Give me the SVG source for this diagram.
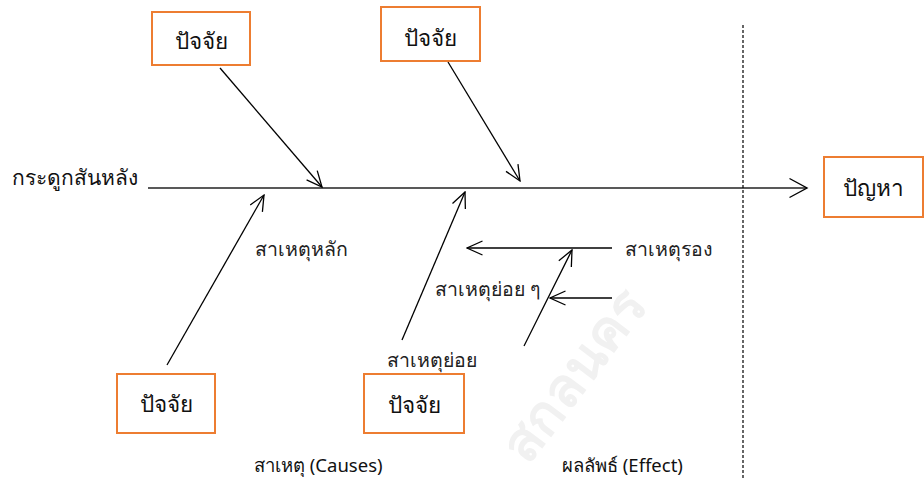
<svg xmlns="http://www.w3.org/2000/svg" width="924" height="479" viewBox="0 0 924 479">
<style>
.box{fill:#fff;stroke:#ED7D31;stroke-width:2}
.t{font-family:"Noto Sans","DejaVu Sans",sans-serif;fill:#111;font-weight:normal}
.bt{font-size:22.5px;text-anchor:middle}
.lb{font-size:19.5px;fill:#222}
.ln{stroke:#000;stroke-width:1.3;fill:none}
.wm{font-family:"Noto Sans","DejaVu Sans",sans-serif;font-size:54px;font-weight:bold;fill:#f1f1f1}
</style>
<defs>
<marker id="ah" markerUnits="userSpaceOnUse" markerWidth="18" markerHeight="18" viewBox="0 0 18 18" refX="16.5" refY="9" orient="auto">
<path d="M1,2 L16.5,9 L1,16" fill="none" stroke="#000" stroke-width="1.3"/>
</marker>
<marker id="ahb" markerUnits="userSpaceOnUse" markerWidth="20" markerHeight="22" viewBox="0 0 20 22" refX="18.5" refY="11" orient="auto">
<path d="M1,1.5 L18.5,11 L1,20.5" fill="none" stroke="#000" stroke-width="1.4"/>
</marker>
</defs>
<g id="watermark">
<text class="wm" transform="translate(528,466) rotate(-53)">สกลนคร</text>
</g>
<g id="connectors">
<line x1="148" y1="188" x2="807" y2="188" stroke="#222" stroke-width="1.6" marker-end="url(#ahb)"/>
<line x1="743" y1="25" x2="743" y2="479" stroke="#000" stroke-width="1.2" stroke-dasharray="3,2"/>
<line class="ln" x1="220" y1="68" x2="322" y2="187" marker-end="url(#ah)"/>
<line class="ln" x1="448" y1="62" x2="520" y2="181" marker-end="url(#ah)"/>
<line class="ln" x1="167" y1="365" x2="264" y2="195" marker-end="url(#ah)"/>
<line class="ln" x1="402" y1="340" x2="465" y2="192" marker-end="url(#ah)"/>
<line class="ln" x1="612" y1="248" x2="467" y2="248" marker-end="url(#ah)"/>
<line class="ln" x1="612" y1="298" x2="550" y2="298" marker-end="url(#ah)"/>
<line class="ln" x1="524" y1="346" x2="572" y2="250" marker-end="url(#ah)"/>
</g>
<g id="factor1">
<rect class="box" x="152" y="12" width="98" height="53"/>
<text class="t bt" x="201" y="49">ปัจจัย</text>
</g>
<g id="factor2">
<rect class="box" x="381" y="7" width="99" height="54"/>
<text class="t bt" x="430.5" y="46">ปัจจัย</text>
</g>
<g id="problem">
<rect class="box" x="824" y="157" width="99" height="60"/>
<text class="t bt" x="873" y="196">ปัญหา</text>
</g>
<g id="factor3">
<rect class="box" x="117" y="374" width="98" height="59"/>
<text class="t bt" x="166" y="412">ปัจจัย</text>
</g>
<g id="factor4">
<rect class="box" x="364" y="374" width="100" height="59"/>
<text class="t bt" x="414" y="413">ปัจจัย</text>
</g>
<g id="labels">
<text class="t" x="12" y="185" font-size="21">กระดูกสันหลัง</text>
<text class="t lb" x="255" y="256">สาเหตุหลัก</text>
<text class="t lb" x="625" y="256">สาเหตุรอง</text>
<text class="t lb" x="435" y="296">สาเหตุย่อย ๆ</text>
<text class="t lb" x="387" y="367">สาเหตุย่อย</text>
<text class="t" x="254" y="472" font-size="18.5">สาเหตุ (Causes)</text>
<text class="t" x="562" y="472" font-size="18.5">ผลลัพธ์ (Effect)</text>
</g>
</svg>
